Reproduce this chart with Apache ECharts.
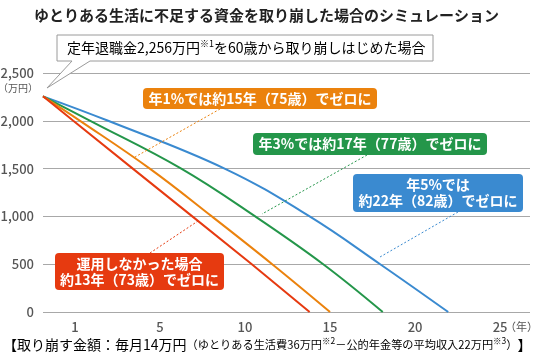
<!DOCTYPE html>
<html>
<head>
<meta charset="utf-8">
<script src="https://cdn.jsdelivr.net/npm/echarts@6/dist/echarts.min.js"></script>
<style>
html,body{margin:0;padding:0;background:#fff;}
#chart{width:533px;height:356px;}
</style>
</head>
<body>
<div id="chart"></div>
<script>
// ---- data ----
const balanceLevels = [2256, 2000, 1500, 1000, 500, 0];           // 万円
const yearsNoInvest = [-1.88, -0.1, 3.4, 6.9, 10.4, 13.8];
const years1pct     = [-1.88, 0.3, 4.4, 8.05, 11.6, 15.0];
const years3pct     = [-1.88, 0.9, 6.25, 10.6, 14.6, 18.1];
const years5pct     = [-1.88, 1.95, 8.8, 13.8, 17.95, 21.95];
const xTickValues = [0, 5, 10, 15, 20, 25];
const xTickLabels = ['1', '5', '10', '15', '20', '25'];
const xUnit = '（年）';
const yUnit = '（万円）';

const FONT = "'Noto Sans CJK JP', 'Noto Sans', sans-serif";
const C_RED = '#e63a10', C_ORANGE = '#eb820d', C_GREEN = '#24964a', C_BLUE = '#3a8ad0';

function pts(xs) { return xs.map((x, i) => [x, balanceLevels[i]]); }

const chart = echarts.init(document.getElementById('chart'), null, {renderer: 'canvas'});

function line(name, xs, color, smooth) {
  return {
    name, type: 'line', data: pts(xs), symbol: 'none', smooth: smooth,
    lineStyle: {color, width: 2}, itemStyle: {color}, z: 3
  };
}

function box(x, y, w, h, color, text, lh) {
  return [
    {type: 'rect', z: 20, shape: {x, y, width: w, height: h, r: 4}, style: {fill: color}},
    {type: 'text', z: 21, x: x + w / 2, y: y + h / 2,
     style: {text, fill: '#fff', fontSize: 14, fontWeight: 'bold', fontFamily: FONT,
             align: 'center', verticalAlign: 'middle', lineHeight: lh || 16}}
  ];
}
function leader(x1, y1, x2, y2, color) {
  return {type: 'line', z: 15, shape: {x1, y1, x2, y2},
          style: {stroke: color, lineWidth: 1, lineDash: [2, 2]}};
}

const option = {
  animation: false,
  backgroundColor: '#fff',
  textStyle: {fontFamily: FONT},
  title: {
    text: 'ゆとりある生活に不足する資金を取り崩した場合のシミュレーション',
    left: 'center', top: 3,
    textStyle: {fontSize: 15, fontWeight: 'bold', color: '#222', fontFamily: FONT}
  },
  grid: {left: 43, right: 3, top: 73, bottom: 44, outerBoundsMode: 'none', containLabel: false},
  xAxis: {
    type: 'value', min: -1.88, max: 26.76,
    axisLine: {show: false}, axisTick: {show: false}, splitLine: {show: false},
    axisLabel: {
      customValues: xTickValues,
      formatter: v => { const i = xTickValues.indexOf(v); return i >= 0 ? xTickLabels[i] : ''; },
      color: '#555', fontSize: 13, fontWeight: 500, margin: 9, fontFamily: FONT
    }
  },
  yAxis: {
    type: 'value', min: 0, max: 2500, interval: 500,
    axisLine: {show: false}, axisTick: {show: false},
    splitLine: {show: true, lineStyle: {color: '#a8a8a8', width: 1}},
    axisLabel: {
      formatter: v => v.toLocaleString('en-US'),
      color: '#555', fontSize: 13, fontWeight: 500, margin: 9, fontFamily: FONT
    }
  },
  series: [
    line('年5%', years5pct, C_BLUE, 0.4),
    line('年3%', years3pct, C_GREEN, 0.4),
    line('年1%', years1pct, C_ORANGE, 0.4),
    line('運用なし', yearsNoInvest, C_RED, false)
  ],
  graphic: [].concat(
    [{type: 'text', z: 21, x: 38, y: 88,
      style: {text: yUnit, fill: '#555', fontSize: 10, fontFamily: FONT, align: 'right', verticalAlign: 'middle'}},
     {type: 'text', z: 21, x: 505, y: 327,
      style: {text: xUnit, fill: '#555', fontSize: 11, fontFamily: FONT, align: 'left', verticalAlign: 'middle'}}],
    [{type: 'polygon', z: 20,
      shape: {points: [[57, 35], [433, 35], [433, 61], [90, 61], [47, 88], [72, 61], [57, 61]]},
      style: {fill: '#fff', stroke: '#9a9a9a', lineWidth: 1}},
     {type: 'text', z: 21, x: 67, y: 48,
      style: {text: '{a|定年退職金2,256万円}{s|※1}{a|を60歳から取り崩しはじめた場合}',
              verticalAlign: 'middle', align: 'left',
              rich: {a: {fontSize: 14, color: '#333', fontFamily: FONT, lineHeight: 18},
                     s: {fontSize: 9, color: '#333', fontFamily: FONT, lineHeight: 12, verticalAlign: 'top'}}}}],
    [leader(220, 109, 135, 157, C_ORANGE),
     leader(367, 155, 262, 214, C_GREEN),
     leader(458, 212, 380, 257, C_BLUE),
     leader(150, 253, 198, 221, C_RED)],
    box(143, 88, 234, 21, C_ORANGE, '年1%では約15年（75歳）でゼロに'),
    box(253, 133, 234, 22, C_GREEN, '年3%では約17年（77歳）でゼロに'),
    box(353, 174, 170, 38, C_BLUE, '年5%では\n約22年（82歳）でゼロに'),
    box(55, 253, 169, 37, C_RED, '運用しなかった場合\n約13年（73歳）でゼロに'),
    [{type: 'text', z: 21, x: 3, y: 345,
      style: {text: '{a|【取り崩す金額：毎月14万円}{b|（ゆとりある生活費36万円}{s|※2}{b|－公的年金等の平均収入22万円}{s|※3}{b|）}{a|】}',
              verticalAlign: 'middle', align: 'left',
              rich: {a: {fontSize: 14, color: '#222', fontFamily: FONT, lineHeight: 17},
                     b: {fontSize: 11.2, color: '#222', fontFamily: FONT, lineHeight: 17},
                     s: {fontSize: 8.5, color: '#222', fontFamily: FONT, lineHeight: 10, verticalAlign: 'top'}}}}]
  )
};
chart.setOption(option);
</script>
</body>
</html>
